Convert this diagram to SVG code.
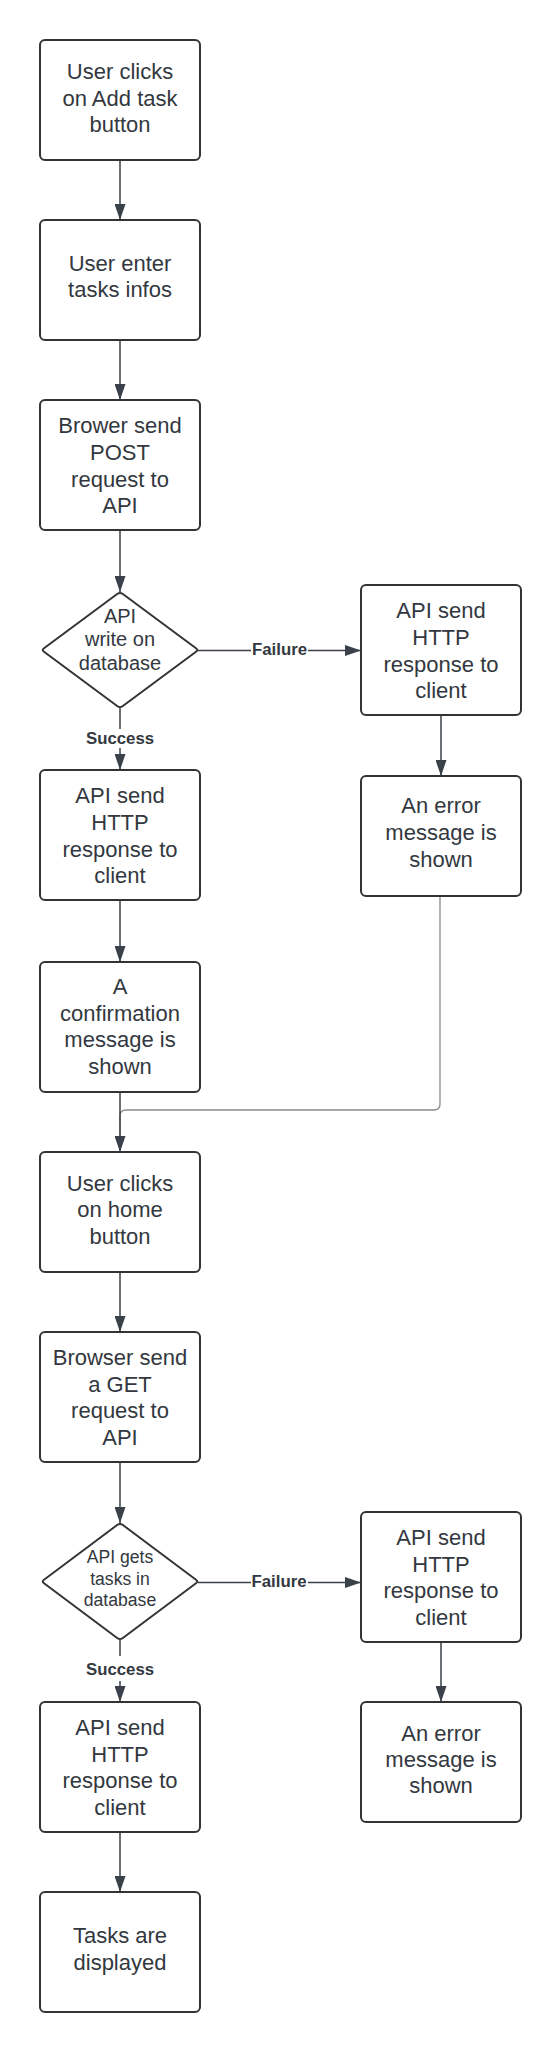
<svg xmlns="http://www.w3.org/2000/svg" width="560" height="2053" viewBox="0 0 560 2053">
<style>
.box{fill:#ffffff;stroke:#333333;stroke-width:2}
.t{font-family:"Liberation Sans",Arial,sans-serif;font-size:22px;fill:#333840;text-anchor:middle}
.td{font-family:"Liberation Sans",Arial,sans-serif;font-size:20px;fill:#333840;text-anchor:middle}
.td2{font-family:"Liberation Sans",Arial,sans-serif;font-size:17.6px;fill:#333840;text-anchor:middle}
.lbl{font-family:"Liberation Sans",Arial,sans-serif;font-size:16.8px;font-weight:bold;fill:#333840;text-anchor:middle}
.c{fill:none;stroke:#3a414a;stroke-width:1.5}
.cg{fill:none;stroke:#8a8a8a;stroke-width:1.3}
.bg{fill:#ffffff}
</style>
<defs>
<marker id="ah" markerWidth="16" markerHeight="11" refX="16" refY="5.5" viewBox="0 0 16 11" markerUnits="userSpaceOnUse" orient="auto">
<path d="M0,0 L16,5.5 L0,11 Z" fill="#3a414a"/>
</marker>
</defs>
<rect width="560" height="2053" fill="#ffffff"/>
<g id="connectors">
<path class="cg" d="M440,896 V1104 Q440,1110 434,1110 H126 Q120,1110 120,1116 V1140"/>
<path class="c" d="M120,160 V220" marker-end="url(#ah)"/>
<path class="c" d="M120,340 V400" marker-end="url(#ah)"/>
<path class="c" d="M120,530 V592" marker-end="url(#ah)"/>
<path class="c" d="M198,650.5 H361" marker-end="url(#ah)"/>
<path class="c" d="M120,708 V770" marker-end="url(#ah)"/>
<path class="c" d="M441,715 V776" marker-end="url(#ah)"/>
<path class="c" d="M120,900 V962" marker-end="url(#ah)"/>
<path class="c" d="M120,1092 V1152" marker-end="url(#ah)"/>
<path class="c" d="M120,1272 V1332" marker-end="url(#ah)"/>
<path class="c" d="M120,1462 V1523" marker-end="url(#ah)"/>
<path class="c" d="M198,1582.5 H361" marker-end="url(#ah)"/>
<path class="c" d="M120,1640 V1702" marker-end="url(#ah)"/>
<path class="c" d="M441,1642 V1702" marker-end="url(#ah)"/>
<path class="c" d="M120,1832 V1892" marker-end="url(#ah)"/>
<rect class="bg" x="251" y="641" width="57" height="17"/>
<text class="lbl" x="279.5" y="654.5">Failure</text>
<rect class="bg" x="84" y="729" width="72" height="19"/>
<text class="lbl" x="120" y="743.5">Success</text>
<rect class="bg" x="251" y="1573" width="57" height="17"/>
<text class="lbl" x="279" y="1586.5">Failure</text>
<rect class="bg" x="84" y="1656" width="72" height="25"/>
<text class="lbl" x="120" y="1675">Success</text>
</g>
<g id="n1"><rect class="box" x="40" y="40" width="160" height="120" rx="5"/>
<text class="t" x="120" y="79">User clicks</text><text class="t" x="120" y="105.5">on Add task</text><text class="t" x="120" y="132">button</text></g>
<g id="n2"><rect class="box" x="40" y="220" width="160" height="120" rx="5"/>
<text class="t" x="120" y="270.5">User enter</text><text class="t" x="120" y="297">tasks infos</text></g>
<g id="n3"><rect class="box" x="40" y="400" width="160" height="130" rx="5"/>
<text class="t" x="120" y="433.3">Brower send</text><text class="t" x="120" y="460">POST</text><text class="t" x="120" y="486.7">request to</text><text class="t" x="120" y="513.3">API</text></g>
<g id="d1"><path class="box" stroke-linejoin="round" d="M117.5,593.8 Q120,592 122.5,593.8 L196,648.2 Q198.5,650 196,651.8 L122.5,706.2 Q120,708 117.5,706.2 L44,651.8 Q41.5,650 44,648.2 Z"/>
<text class="td" x="120" y="622.5">API</text><text class="td" x="120" y="646">write on</text><text class="td" x="120" y="669.5">database</text></g>
<g id="r1"><rect class="box" x="361" y="585" width="160" height="130" rx="5"/>
<text class="t" x="441" y="618.3">API send</text><text class="t" x="441" y="645">HTTP</text><text class="t" x="441" y="671.7">response to</text><text class="t" x="441" y="698">client</text></g>
<g id="n4"><rect class="box" x="40" y="770" width="160" height="130" rx="5"/>
<text class="t" x="120" y="803.3">API send</text><text class="t" x="120" y="830">HTTP</text><text class="t" x="120" y="856.7">response to</text><text class="t" x="120" y="883.3">client</text></g>
<g id="r2"><rect class="box" x="361" y="776" width="160" height="120" rx="5"/>
<text class="t" x="441" y="813.3">An error</text><text class="t" x="441" y="840">message is</text><text class="t" x="441" y="866.7">shown</text></g>
<g id="n5"><rect class="box" x="40" y="962" width="160" height="130" rx="5"/>
<text class="t" x="120" y="994">A</text><text class="t" x="120" y="1020.7">confirmation</text><text class="t" x="120" y="1047.3">message is</text><text class="t" x="120" y="1074">shown</text></g>
<g id="n6"><rect class="box" x="40" y="1152" width="160" height="120" rx="5"/>
<text class="t" x="120" y="1190.7">User clicks</text><text class="t" x="120" y="1217.3">on home</text><text class="t" x="120" y="1244">button</text></g>
<g id="n7"><rect class="box" x="40" y="1332" width="160" height="130" rx="5"/>
<text class="t" x="120" y="1365">Browser send</text><text class="t" x="120" y="1391.7">a GET</text><text class="t" x="120" y="1418.3">request to</text><text class="t" x="120" y="1445">API</text></g>
<g id="d2"><path class="box" stroke-linejoin="round" d="M117.5,1524.8 Q120,1523 122.5,1524.8 L196,1579.7 Q198.5,1581.5 196,1583.3 L122.5,1638.2 Q120,1640 117.5,1638.2 L44,1583.3 Q41.5,1581.5 44,1579.7 Z"/>
<text class="td2" x="120" y="1563.3">API gets</text><text class="td2" x="120" y="1585">tasks in</text><text class="td2" x="120" y="1606.3">database</text></g>
<g id="r3"><rect class="box" x="361" y="1512" width="160" height="130" rx="5"/>
<text class="t" x="441" y="1545">API send</text><text class="t" x="441" y="1571.7">HTTP</text><text class="t" x="441" y="1598.3">response to</text><text class="t" x="441" y="1625">client</text></g>
<g id="n8"><rect class="box" x="40" y="1702" width="160" height="130" rx="5"/>
<text class="t" x="120" y="1735">API send</text><text class="t" x="120" y="1761.7">HTTP</text><text class="t" x="120" y="1788.3">response to</text><text class="t" x="120" y="1815">client</text></g>
<g id="r4"><rect class="box" x="361" y="1702" width="160" height="120" rx="5"/>
<text class="t" x="441" y="1740.7">An error</text><text class="t" x="441" y="1767">message is</text><text class="t" x="441" y="1793.3">shown</text></g>
<g id="n9"><rect class="box" x="40" y="1892" width="160" height="120" rx="5"/>
<text class="t" x="120" y="1943.3">Tasks are</text><text class="t" x="120" y="1969.5">displayed</text></g>
</svg>
